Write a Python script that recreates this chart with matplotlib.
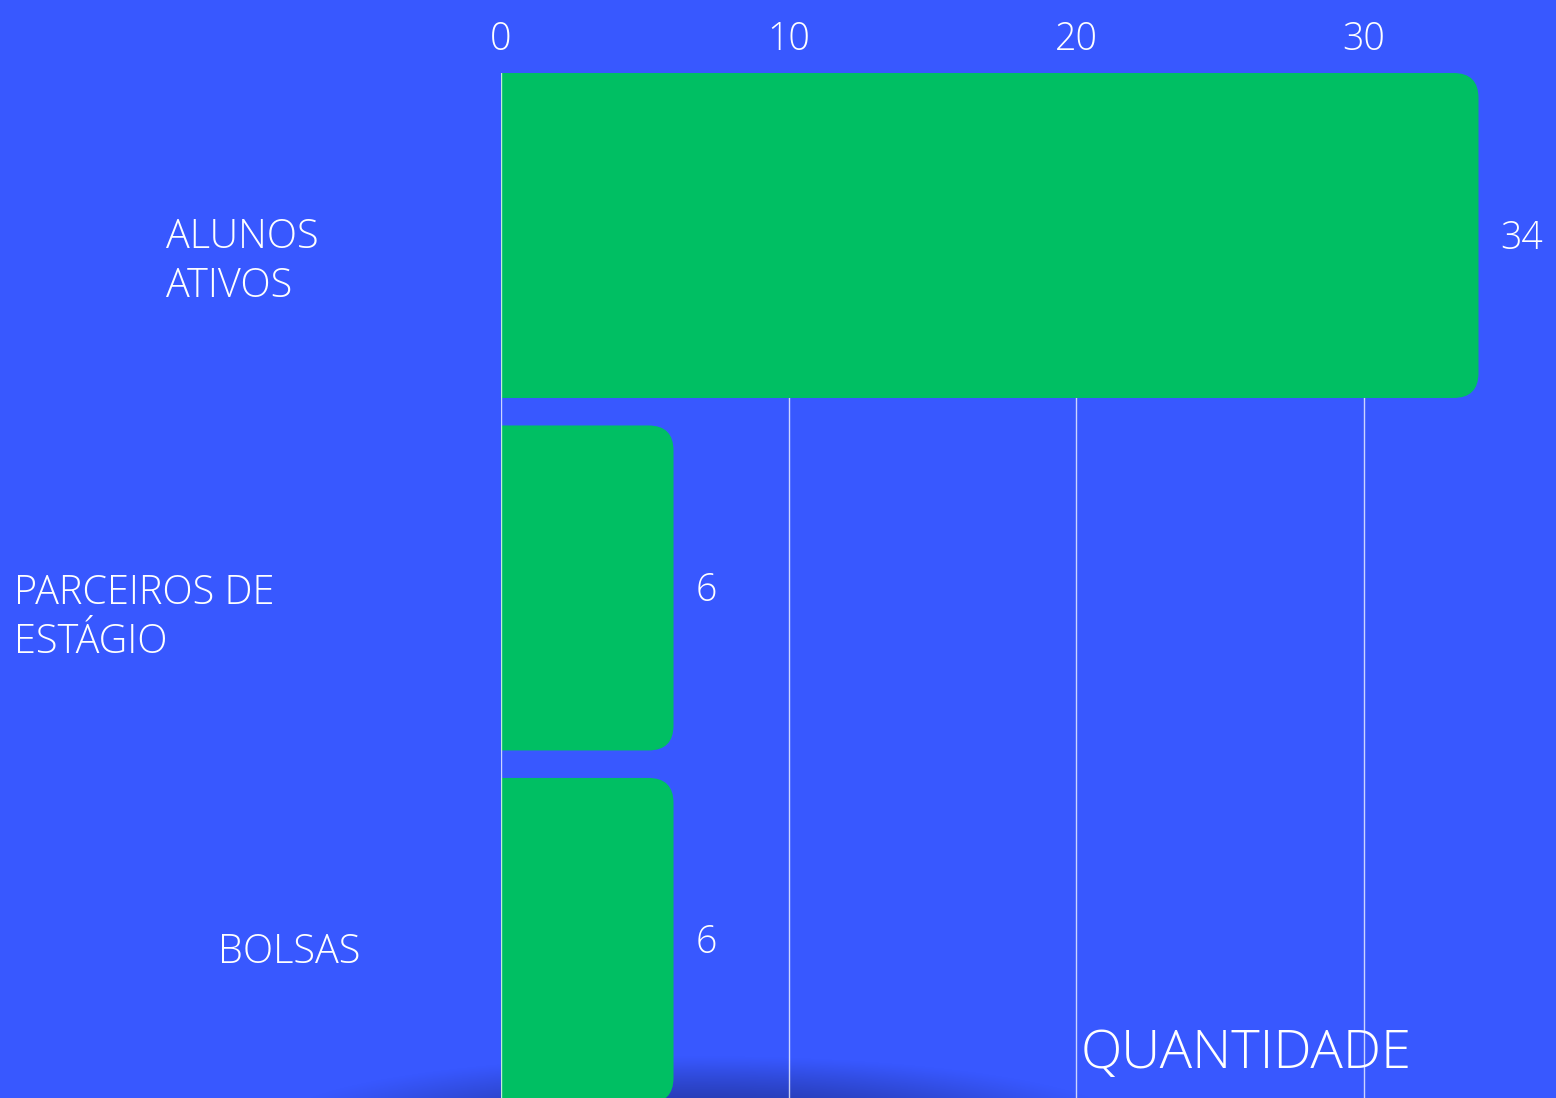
import numpy as np
import matplotlib
matplotlib.use("Agg")
import matplotlib.pyplot as plt
from matplotlib.path import Path
from matplotlib.patches import PathPatch
import matplotlib.transforms as mtransforms

# data
categories = ["ALUNOS\nATIVOS", "PARCEIROS DE\nESTÁGIO", "BOLSAS"]
values = [34, 6, 6]
ticks = [0, 10, 20, 30]
axis_title = "QUANTIDADE"

BG = "#3858FF"
GREEN = "#00BF63"
FONT = "Open Sans"
W = "light"

plt.rcParams['font.family'] = [FONT, 'DejaVu Sans']

fig = plt.figure(figsize=(15.56, 10.98), dpi=100)
fig.patch.set_facecolor(BG)

# soft dark shadow at the bottom
bg = fig.add_axes([0, 0, 1, 1], zorder=0)
bg.set_xlim(0, 1556)
bg.set_ylim(1098, 0)
bg.axis("off")
xx, yy = np.meshgrid(np.arange(1556), np.arange(1098))
d = ((xx - 700) / 430.0) ** 2 + ((yy - 1125) / 70.0) ** 2
alpha = np.clip(1 - d, 0, 1) ** 1.3 * 0.75
img = np.zeros((1098, 1556, 4))
img[..., 0] = 0.12
img[..., 1] = 0.18
img[..., 2] = 0.55
img[..., 3] = alpha
bg.imshow(img, extent=(0, 1556, 1098, 0), aspect="auto", interpolation="bilinear")

ax = fig.add_axes([501 / 1556, 0, 1 - 501 / 1556, 1 - 73 / 1098], zorder=1)
ax.set_facecolor("none")
xmax = (1556 - 501) / 28.75
ax.set_xlim(0, xmax)
ax.set_ylim(2.447, -0.461)

bar_h = 0.922
# corner radius in pixels -> data units
rx = 25 / 28.75
ry = 25 / 352.5


def rounded_bar(y, v):
    lo, hi = y - bar_h / 2, y + bar_h / 2
    verts = [(0, lo), (v - rx, lo), (v, lo), (v, lo + ry),
             (v, hi - ry), (v, hi), (v - rx, hi), (0, hi), (0, lo)]
    codes = [Path.MOVETO, Path.LINETO, Path.CURVE3, Path.CURVE3,
             Path.LINETO, Path.CURVE3, Path.CURVE3, Path.LINETO, Path.CLOSEPOLY]
    return PathPatch(Path(verts, codes), facecolor=GREEN, edgecolor="none", zorder=2)


for i, v in enumerate(values):
    ax.add_patch(rounded_bar(i, v))
    ax.annotate(str(v), (v, i), xytext=(16, -2), textcoords="offset points",
                ha="left", va="center", color="white", fontsize=27, fontweight=W)

for t in ticks[1:]:
    ax.axvline(t, color="white", lw=1, alpha=0.75, zorder=1)
ax.axvline(0, color="white", lw=1, alpha=0.75, zorder=3)

ax.xaxis.tick_top()
ax.set_xticks(ticks)
ax.set_xticklabels([str(t) for t in ticks])
ax.tick_params(axis="x", length=0, pad=10, labelsize=27, colors="white")
for lab in ax.get_xticklabels():
    lab.set_fontweight(W)
ax.set_yticks([])
for s in ax.spines.values():
    s.set_visible(False)

# category labels on the left
trans = mtransforms.blended_transform_factory(fig.transFigure, ax.transData)
label_x = [166 / 1556, 14 / 1556, 218 / 1556]
label_dy = [0.075, 0.085, 0.035]
for i, c in enumerate(categories):
    ax.text(label_x[i], i + label_dy[i], c, transform=trans, ha="left", va="center",
            color="white", fontsize=28.5, fontweight=W, linespacing=1.28)

fig.text(1081 / 1556, 1 - 1068 / 1098, axis_title, ha="left", va="baseline",
         color="white", fontsize=39, fontweight=W, zorder=5)

fig.savefig("out.png", dpi=100, facecolor=BG)
